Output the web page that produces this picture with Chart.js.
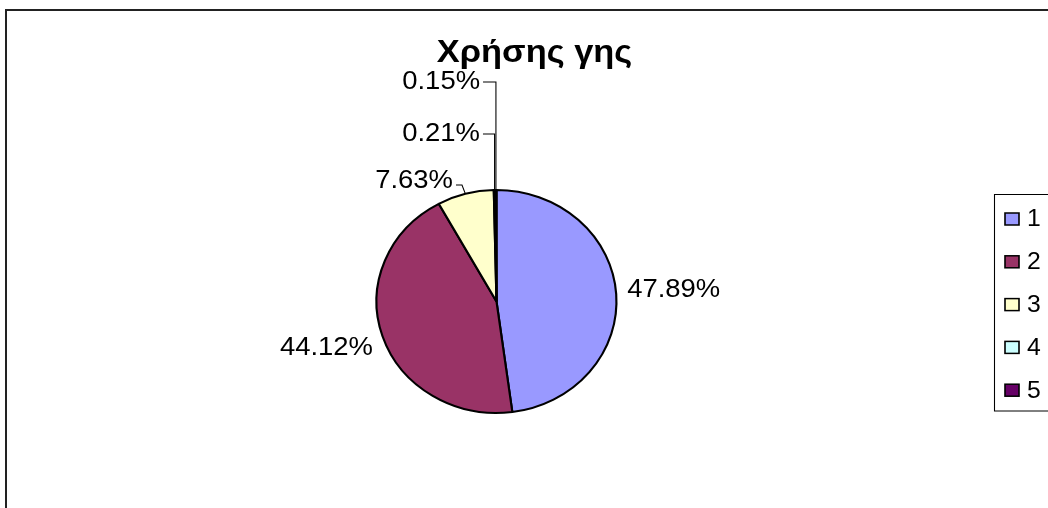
<!DOCTYPE html>
<html>
<head>
<meta charset="utf-8">
<title>Χρήσης γης</title>
<script src="https://cdn.jsdelivr.net/npm/chart.js@4.4.0/dist/chart.umd.min.js"></script>
<style>
  html, body { margin: 0; padding: 0; background: #fff; }
  canvas { display: block; }
</style>
</head>
<body>
<canvas id="pieChart" width="1048" height="508"></canvas>
<script>
// data
const titleText = 'Χρήσης γης';
const categories = ['1', '2', '3', '4', '5'];
const shares = [47.89, 44.12, 7.63, 0.21, 0.15];
const sliceColors = ['#9999FF', '#993366', '#FFFFCC', '#CCFFFF', '#660066'];

// the original picture is stretched sideways, so draw everything with a x-scale
const SX = 1.076;
const FONT = '"Liberation Sans", Arial, sans-serif';

// label placement relative to each slice's outer midpoint (screen px)
const labelPlacement = [
    { dx: 11, dy: -4.6, align: 'left' },
    { dx: -9.5, dy: 11.2, align: 'right' },
    { dx: -12.4, dy: -12.8, align: 'right', elbow: { ex: -3.4, ey: 4 } },
    { dx: -14.6, dy: -56.5, align: 'right', elbow: { ex: 0, ey: 0.5 } },
    { dx: -15.9, dy: -108.5, align: 'right', elbow: { ex: 0, ey: 0.5 } }
];

const excelLook = {
    id: 'excelLook',
    beforeDraw(chart) {
        const ctx = chart.ctx;
        ctx.save();
        ctx.scale(SX, 1);
    },
    afterDatasetsDraw(chart) {
        const ctx = chart.ctx;
        const arcs = chart.getDatasetMeta(0).data;

        // title
        ctx.save();
        ctx.fillStyle = '#000';
        ctx.font = 'bold 32px ' + FONT;
        ctx.textAlign = 'center';
        ctx.textBaseline = 'alphabetic';
        ctx.fillText(titleText, 534.5 / SX, 62);
        ctx.restore();

        // data labels + leader lines
        ctx.save();
        ctx.font = '25.5px ' + FONT;
        ctx.fillStyle = '#000';
        ctx.textBaseline = 'middle';
        arcs.forEach((arc, i) => {
            const p = labelPlacement[i];
            const mid = (arc.startAngle + arc.endAngle) / 2;
            const ax = arc.x + Math.cos(mid) * arc.outerRadius;
            const ay = arc.y + Math.sin(mid) * arc.outerRadius;
            const tx = ax + p.dx / SX;
            const ty = ay + p.dy;
            const label = shares[i].toFixed(2) + '%';
            ctx.textAlign = p.align;
            ctx.fillText(label, tx, ty);

            if (p.elbow) {
                const ly = ty + p.elbow.ey;
                ctx.beginPath();
                ctx.lineWidth = 1;
                ctx.strokeStyle = '#000';
                ctx.moveTo(ax, ay);
                ctx.lineTo(ax + p.elbow.ex / SX, ly);
                ctx.lineTo(tx + 3 / SX, ly);
                ctx.stroke();
            }
        });
        ctx.restore();

        // legend
        ctx.save();
        ctx.lineWidth = 1;
        ctx.strokeStyle = '#000';
        ctx.strokeRect(994.5 / SX, 194.5, 200, 216.5);
        ctx.font = '23px ' + FONT;
        ctx.textAlign = 'left';
        ctx.textBaseline = 'middle';
        ctx.lineWidth = 1.5;
        categories.forEach((cat, i) => {
            const y = 219 + i * 42.8;
            ctx.fillStyle = sliceColors[i];
            ctx.fillRect(1005 / SX, y - 6, 14 / SX, 12);
            ctx.strokeRect(1005 / SX, y - 6, 14 / SX, 12);
            ctx.fillStyle = '#000';
            ctx.fillText(cat, 1027 / SX, y + 1);
        });
        ctx.restore();
    },
    afterDraw(chart) {
        const ctx = chart.ctx;
        ctx.restore();
        // chart frame (cut off at right and bottom in the original)
        ctx.save();
        ctx.lineWidth = 2;
        ctx.strokeStyle = '#222';
        ctx.strokeRect(6, 10, 1200, 700);
        ctx.restore();
    }
};

const cx = 496.5 / SX;
const cy = 301.5;
const radius = 111.5;

new Chart(document.getElementById('pieChart'), {
    type: 'pie',
    data: {
        labels: categories,
        datasets: [{
            data: shares,
            backgroundColor: sliceColors,
            borderColor: '#000',
            borderWidth: 2,
            radius: radius
        }]
    },
    options: {
        responsive: false,
        animation: false,
        events: [],
        layout: {
            padding: {
                left: cx - radius,
                right: 1048 - (cx + radius),
                top: cy - radius,
                bottom: 508 - (cy + radius)
            }
        },
        plugins: {
            legend: { display: false },
            title: { display: false },
            tooltip: { enabled: false }
        }
    },
    plugins: [excelLook]
});
</script>
</body>
</html>
